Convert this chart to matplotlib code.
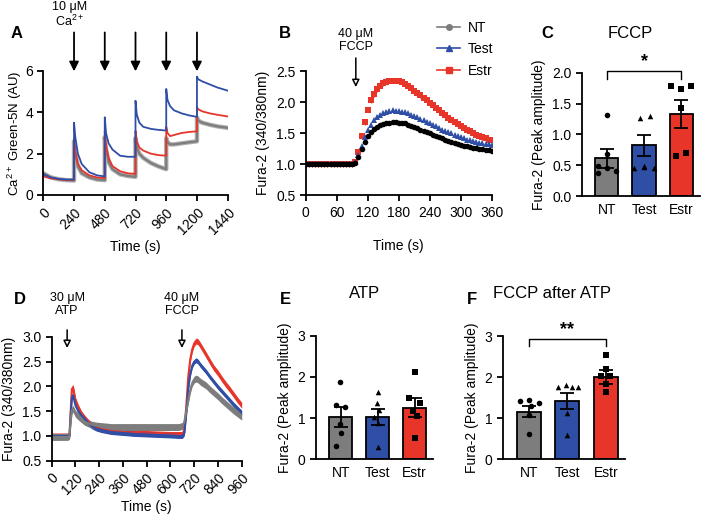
import numpy as np
import matplotlib
matplotlib.use('Agg')
import matplotlib.pyplot as plt
from matplotlib.lines import Line2D

plt.rcParams['font.family'] = ['Liberation Sans', 'DejaVu Sans']
plt.rcParams['mathtext.default'] = 'regular'
plt.rcParams['font.size'] = 10
plt.rcParams['axes.linewidth'] = 1.3
plt.rcParams['xtick.major.width'] = 1.3
plt.rcParams['ytick.major.width'] = 1.3
plt.rcParams['xtick.major.size'] = 4
plt.rcParams['ytick.major.size'] = 4

GRAY = '#7d7d7d'
BLUE = '#2f4ea6'
RED = '#e8352a'

# ---- Panel A: Ca2+ Green-5N traces ----
tA = [0, 60, 120, 180, 240,
      240, 250, 270, 300, 360, 420, 480,
      480, 490, 510, 540, 600, 660, 720,
      720, 730, 750, 780, 840, 900, 960,
      960, 970, 990, 1020, 1080, 1140, 1200,
      1200, 1210, 1240, 1300, 1360, 1440]
a_test = [1.0, 0.85, 0.78, 0.75, 0.75,
          3.5, 2.8, 2.0, 1.5, 1.1, 0.95, 0.9,
          3.76, 3.0, 2.5, 2.2, 1.9, 1.85, 1.85,
          4.56, 3.9, 3.5, 3.3, 3.2, 3.15, 3.12,
          5.13, 4.6, 4.3, 4.1, 3.95, 3.85, 3.78,
          5.73, 5.6, 5.5, 5.35, 5.2, 5.05]
a_estr = [0.9, 0.8, 0.76, 0.73, 0.72,
          2.75, 2.1, 1.5, 1.2, 0.95, 0.85, 0.82,
          3.1, 2.4, 1.8, 1.4, 1.15, 1.05, 1.02,
          3.1, 2.6, 2.3, 2.15, 2.0, 1.93, 1.9,
          3.3, 3.0, 2.85, 2.9, 3.0, 3.05, 3.08,
          4.25, 4.15, 4.05, 3.95, 3.88, 3.8]
a_nt = [1.05, 0.85, 0.76, 0.72, 0.7,
        2.6, 2.0, 1.4, 1.05, 0.85, 0.75, 0.72,
        2.8, 2.2, 1.6, 1.25, 1.0, 0.92, 0.88,
        2.75, 2.3, 2.0, 1.8, 1.55, 1.38, 1.25,
        2.75, 2.55, 2.45, 2.45, 2.5, 2.55, 2.6,
        3.75, 3.6, 3.5, 3.4, 3.32, 3.25]
ca_additions = [240, 480, 720, 960, 1200]

# ---- Panel B: FCCP Fura-2 traces (every 6 s) ----
tB = list(range(0, 361, 6))
b_nt = [1.0] * 16 + [1.02, 1.12, 1.24, 1.36, 1.45, 1.52, 1.57, 1.60, 1.63, 1.65,
                     1.66, 1.67, 1.68, 1.68, 1.67, 1.67, 1.66, 1.64, 1.62, 1.60,
                     1.58, 1.56, 1.54, 1.52, 1.50, 1.48, 1.46, 1.44, 1.42, 1.40,
                     1.38, 1.36, 1.35, 1.33, 1.31, 1.30, 1.29, 1.28, 1.27, 1.26,
                     1.25, 1.24, 1.23, 1.23, 1.22]
b_test = [1.0] * 16 + [1.03, 1.15, 1.30, 1.44, 1.56, 1.64, 1.71, 1.76, 1.80, 1.83,
                       1.85, 1.86, 1.87, 1.86, 1.86, 1.85, 1.84, 1.82, 1.80, 1.78,
                       1.76, 1.73, 1.71, 1.68, 1.66, 1.63, 1.61, 1.58, 1.56, 1.54,
                       1.52, 1.50, 1.48, 1.46, 1.44, 1.42, 1.40, 1.39, 1.37, 1.36,
                       1.35, 1.34, 1.33, 1.32, 1.31]
b_estr = [1.0] * 16 + [1.03, 1.20, 1.45, 1.68, 1.88, 2.03, 2.13, 2.21, 2.27, 2.31,
                       2.33, 2.35, 2.35, 2.35, 2.34, 2.32, 2.30, 2.27, 2.23, 2.19,
                       2.15, 2.11, 2.07, 2.03, 1.99, 1.95, 1.91, 1.87, 1.83, 1.79,
                       1.75, 1.72, 1.68, 1.65, 1.62, 1.59, 1.56, 1.53, 1.51, 1.48,
                       1.46, 1.44, 1.42, 1.40, 1.39]
b_sem = {'NT': 0.03, 'Test': 0.03, 'Estr': 0.04}

# ---- Panel D: ATP then FCCP traces ----
tD = [0, 30, 60, 80, 90, 96, 102, 108, 114, 120, 135, 150, 165, 180, 200, 225, 250,
      300, 360, 420, 480, 540, 600, 640, 660, 670, 680, 690, 700, 710, 720, 730,
      740, 750, 765, 780, 800, 820, 840, 860, 880, 900, 920, 940, 960]
d_estr = [1.0, 1.0, 1.0, 1.0, 1.02, 1.5, 1.95, 1.98, 1.85, 1.72, 1.57, 1.45, 1.37,
          1.3, 1.23, 1.17, 1.14, 1.1, 1.08, 1.06, 1.05, 1.04, 1.03, 1.03, 1.03, 1.12,
          1.6, 2.2, 2.55, 2.75, 2.87, 2.92, 2.9, 2.84, 2.74, 2.64, 2.5, 2.37, 2.27,
          2.15, 2.04, 1.94, 1.83, 1.72, 1.62]
d_test = [1.0, 1.0, 1.0, 1.0, 1.0, 1.4, 1.78, 1.82, 1.72, 1.62, 1.5, 1.42, 1.35,
          1.28, 1.2, 1.15, 1.12, 1.08, 1.06, 1.04, 1.03, 1.02, 1.01, 1.0, 1.0, 1.05,
          1.45, 1.96, 2.25, 2.42, 2.5, 2.53, 2.5, 2.44, 2.37, 2.3, 2.19, 2.09, 1.99,
          1.9, 1.81, 1.72, 1.63, 1.55, 1.47]
d_nt = [0.98, 0.98, 0.98, 0.98, 1.0, 1.3, 1.52, 1.55, 1.5, 1.45, 1.39, 1.34, 1.29,
        1.26, 1.23, 1.21, 1.2, 1.18, 1.18, 1.18, 1.18, 1.18, 1.18, 1.18, 1.2, 1.28,
        1.5, 1.72, 1.93, 2.07, 2.14, 2.16, 2.14, 2.1, 2.06, 2.02, 1.94, 1.87, 1.8,
        1.72, 1.65, 1.58, 1.51, 1.45, 1.39]
d_sem = {'NT': 0.07, 'Test': 0.05, 'Estr': 0.06}

# ---- Bar panels: mean, sem, individual cells ----
groups = ['NT', 'Test', 'Estr']
c_mean = [0.61, 0.82, 1.33]
c_sem = [0.15, 0.17, 0.22]
c_pts = [[1.31, 0.68, 0.48, 0.45, 0.41, 0.37],
         [1.27, 1.29, 0.45, 0.48, 0.46, 0.47],
         [1.78, 1.73, 1.78, 1.42, 0.65, 0.69]]
c_off = [[0.0, 0.0, -0.22, 0.0, 0.24, -0.22],
         [-0.11, 0.16, -0.27, 0.0, 0.28, 0.0],
         [-0.27, 0.0, 0.27, 0.0, -0.13, 0.13]]

e_mean = [1.02, 1.03, 1.25]
e_sem = [0.24, 0.19, 0.23]
e_pts = [[1.88, 1.32, 1.26, 0.86, 0.33, 0.65],
         [1.64, 1.37, 1.2, 1.03, 0.87, 0.29],
         [2.13, 1.48, 1.37, 1.18, 1.05, 0.51]]
e_off = [[-0.02, -0.14, 0.12, -0.03, -0.12, 0.0],
         [0.0, -0.03, 0.03, -0.1, 0.0, 0.0],
         [0.0, -0.14, 0.15, -0.05, 0.07, 0.0]]

f_mean = [1.16, 1.42, 2.0]
f_sem = [0.14, 0.2, 0.18]
f_pts = [[1.42, 1.44, 1.36, 1.3, 1.07, 0.61],
         [1.76, 1.8, 1.76, 1.76, 1.12, 0.59],
         [2.53, 2.2, 2.02, 2.02, 1.83, 1.64]]
f_off = [[-0.22, 0.0, 0.27, 0.05, 0.0, 0.0],
         [-0.24, -0.04, 0.12, 0.28, 0.0, 0.0],
         [0.0, 0.0, -0.12, 0.12, 0.0, 0.0]]

W, H = 709, 516
fig = plt.figure(figsize=(W / 100, H / 100), dpi=100)


def rect(x0, y0, x1, y1):
    # pixel box (left, top, right, bottom) -> figure fraction
    return [x0 / W, 1 - y1 / H, (x1 - x0) / W, (y1 - y0) / H]


def clean(ax):
    ax.spines['top'].set_visible(False)
    ax.spines['right'].set_visible(False)


# ---------- A ----------
axA = fig.add_axes(rect(43.3, 71, 227.7, 195))
clean(axA)
axA.plot(tA, a_nt, color='#b0b0b0', lw=3.2, solid_joinstyle='round')
axA.plot(tA, a_nt, color=GRAY, lw=1.6)
axA.plot(tA, a_estr, color=RED, lw=1.3)
axA.plot(tA, a_test, color=BLUE, lw=1.3)
axA.set_xlim(0, 1440)
axA.set_ylim(0, 6)
axA.set_xticks(range(0, 1441, 240))
axA.set_yticks([0, 2, 4, 6])
plt.setp(axA.get_xticklabels(), rotation=45, ha='right', rotation_mode='anchor')
axA.set_xlabel('Time (s)', labelpad=2)
axA.set_ylabel('Ca$^{2+}$ Green-5N (AU)', fontsize=9.5, labelpad=1)
for t in ca_additions:
    axA.annotate('', xy=(t, 5.85), xytext=(t, 8.0), annotation_clip=False,
                 arrowprops=dict(arrowstyle='-|>', color='k', lw=1.3, mutation_scale=14))
axA.text(205, 8.7, '10 μM\nCa$^{2+}$', ha='center', va='center', fontsize=9,
         linespacing=1.1, clip_on=False)

# ---------- B ----------
axB = fig.add_axes(rect(305.7, 71.3, 491.7, 195.3))
clean(axB)
axB.errorbar(tB, b_estr, yerr=b_sem['Estr'], fmt='s', color=RED, ms=4,
             elinewidth=0.8, capsize=1.5, mew=0)
axB.errorbar(tB, b_test, yerr=b_sem['Test'], fmt='^', color=BLUE, ms=4.5,
             elinewidth=0.8, capsize=1.5, mew=0)
axB.errorbar(tB, b_nt, yerr=b_sem['NT'], fmt='o', color='black', ms=4,
             elinewidth=0.8, capsize=1.5, mew=0)
axB.set_xlim(0, 360)
axB.set_ylim(0.5, 2.5)
axB.set_xticks(range(0, 361, 60))
axB.set_yticks([0.5, 1.0, 1.5, 2.0, 2.5])
axB.set_yticklabels(['0.5', '1.0', '1.5', '2.0', '2.5'])
axB.set_xlabel('Time (s)', labelpad=14)
axB.set_ylabel('Fura-2 (340/380nm)')
axB.annotate('', xy=(97, 2.2), xytext=(97, 2.76), annotation_clip=False,
             arrowprops=dict(arrowstyle='-|>', fc='white', ec='k', lw=1.1, mutation_scale=11))
axB.text(97, 3.0, '40 μM\nFCCP', ha='center', va='center', fontsize=9,
         linespacing=1.1, clip_on=False)

handles = [Line2D([0], [0], color=GRAY, marker='o', ms=4, lw=1.2),
           Line2D([0], [0], color=BLUE, marker='^', ms=4.5, lw=1.2),
           Line2D([0], [0], color=RED, marker='s', ms=4, lw=1.2)]
fig.legend(handles, groups, loc='upper left', bbox_to_anchor=(425 / W, 1 - 8 / H),
           frameon=False, fontsize=10, handlelength=1.6, handletextpad=0.6,
           labelspacing=0.55)

# ---------- D ----------
axD = fig.add_axes(rect(51.7, 337, 241.7, 460.7))
clean(axD)
for vals, col, key in [(d_estr, RED, 'Estr'), (d_test, BLUE, 'Test'), (d_nt, GRAY, 'NT')]:
    v = np.array(vals)
    axD.fill_between(tD, v - d_sem[key], v + d_sem[key], color=col, lw=0)
    axD.plot(tD, v, color=col, lw=1.5)
axD.set_xlim(0, 960)
axD.set_ylim(0.5, 3.0)
axD.set_xticks(range(0, 961, 120))
axD.set_yticks([0.5, 1.0, 1.5, 2.0, 2.5, 3.0])
axD.set_yticklabels(['0.5', '1.0', '1.5', '2.0', '2.5', '3.0'])
plt.setp(axD.get_xticklabels(), rotation=45, ha='right', rotation_mode='anchor')
axD.set_xlabel('Time (s)', labelpad=2)
axD.set_ylabel('Fura-2 (340/380nm)')
for t, lab in [(78, '30 μM\nATP'), (658, '40 μM\nFCCP')]:
    axD.annotate('', xy=(t, 2.72), xytext=(t, 3.2), annotation_clip=False,
                 arrowprops=dict(arrowstyle='-|>', fc='white', ec='k', lw=1.1,
                                 mutation_scale=11))
    axD.text(t, 3.65, lab, ha='center', va='center', fontsize=9,
             linespacing=1.1, clip_on=False)


# ---------- bar panels ----------
def bar_panel(ax, means, sems, pts, offs, ymax, yticks, fmt):
    clean(ax)
    x = np.arange(3)
    ax.bar(x, means, width=0.62, color=[GRAY, BLUE, RED], edgecolor='black', lw=1.3,
           zorder=1)
    ax.errorbar(x, means, yerr=sems, fmt='none', ecolor='black', elinewidth=1.3,
                capsize=5, capthick=1.3, zorder=3)
    for i, mk in enumerate(['o', '^', 's']):
        ax.scatter(x[i] + np.array(offs[i]), pts[i], marker=mk, s=16, color='black',
                   zorder=4, lw=0)
    ax.set_xlim(-0.67, 2.5)
    ax.set_ylim(0, ymax)
    ax.set_xticks(x)
    ax.set_xticklabels(groups)
    ax.tick_params(axis='x', length=0, pad=5)
    ax.set_yticks(yticks)
    ax.set_yticklabels([fmt % v for v in yticks])
    ax.set_ylabel('Fura-2 (Peak amplitude)')


axC = fig.add_axes(rect(581.7, 72.7, 700, 196))
bar_panel(axC, c_mean, c_sem, c_pts, c_off, 2.0, [0.0, 0.5, 1.0, 1.5, 2.0], '%.1f')
axC.plot([0, 0, 2, 2], [1.9, 2.03, 2.03, 1.9], color='black', lw=1, clip_on=False)
axC.text(1, 2.05, '*', ha='center', va='bottom', fontsize=13, fontweight='bold')

axE = fig.add_axes(rect(316, 335.7, 433, 459.3))
bar_panel(axE, e_mean, e_sem, e_pts, e_off, 3, [0, 1, 2, 3], '%d')

axF = fig.add_axes(rect(503, 336, 625, 459.3))
bar_panel(axF, f_mean, f_sem, f_pts, f_off, 3, [0, 1, 2, 3], '%d')
axF.plot([0, 0, 2, 2], [2.75, 2.93, 2.93, 2.75], color='black', lw=1, clip_on=False)
axF.text(1, 2.95, '**', ha='center', va='bottom', fontsize=13, fontweight='bold')

# titles and panel letters
fig.text(630 / W, 1 - 33 / H, 'FCCP', ha='center', va='center', fontsize=12)
fig.text(365 / W, 1 - 293 / H, 'ATP', ha='center', va='center', fontsize=12)
fig.text(552 / W, 1 - 293 / H, 'FCCP after ATP', ha='center', va='center', fontsize=12)
for lab, px, py in [('A', 17, 33), ('B', 285, 33), ('C', 547, 33),
                    ('D', 20, 300), ('E', 285, 300), ('F', 472, 299)]:
    fig.text(px / W, 1 - py / H, lab, ha='center', va='center', fontsize=12,
             fontweight='bold')

fig.savefig('out.png', dpi=100)
